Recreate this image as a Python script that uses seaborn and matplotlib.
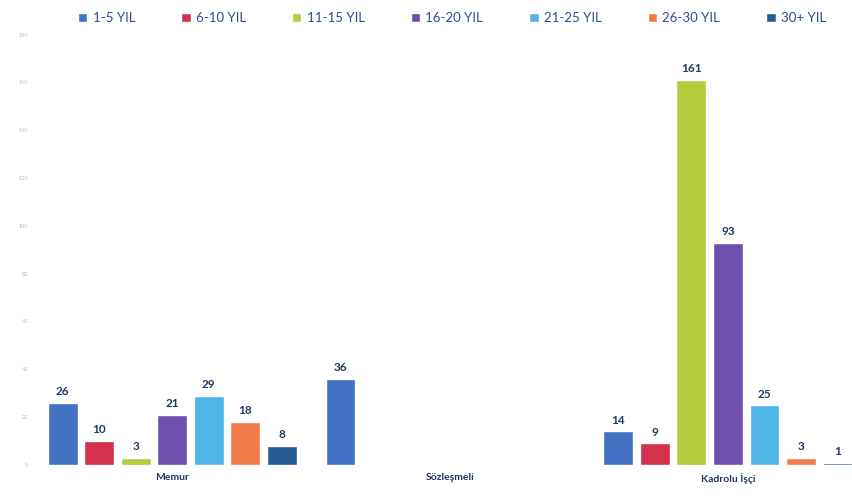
import pandas as pd
import matplotlib.pyplot as plt
import seaborn as sns

# Veriler
kategoriler = ['Memur', 'Sözleşmeli', 'Kadrolu İşçi']
gruplar = ['1-5 YIL', '6-10 YIL', '11-15 YIL', '16-20 YIL', '21-25 YIL', '26-30 YIL', '30+ YIL']
memur = [26, 10, 3, 21, 29, 18, 8]
sozlesmeli = [36, 0, 0, 0, 0, 0, 0]
kadrolu = [14, 9, 161, 93, 25, 3, 1]
renkler = ['#4472C4', '#D5304C', '#B5CB3E', '#6E4FAE', '#4DB5E8', '#F47B4A', '#245B95']
y_ticks = [0, 20, 40, 60, 80, 100, 120, 140, 160, 180]

rows = []
for kat, vals in zip(kategoriler, [memur, sozlesmeli, kadrolu]):
    for g, v in zip(gruplar, vals):
        rows.append({'Kategori': kat, 'Grup': g, 'Sayi': v})
df = pd.DataFrame(rows)

sns.set_style("white")
plt.rcParams['font.family'] = ['Lato', 'DejaVu Sans']

fig = plt.figure(figsize=(8.53, 5.01), dpi=100)
ax = fig.add_axes([0.039, 0.072, 0.961, 0.878])

sns.barplot(data=df, x='Kategori', y='Sayi', hue='Grup', order=kategoriler,
            hue_order=gruplar, palette=renkler, width=0.92, gap=0.18,
            saturation=1, legend=True, ax=ax)

# değer etiketleri (0 olanlar yazılmıyor)
for cont in ax.containers:
    etiketler = [f'{int(b.get_height())}' if b.get_height() > 0 else '' for b in cont]
    ax.bar_label(cont, labels=etiketler, padding=4, fontsize=8.5,
                 fontweight='bold', color='#1F3864')

ax.set_xlim(-0.5, 2.45)
ax.set_ylim(0, 184)
ax.set_yticks(y_ticks)
ax.tick_params(axis='y', labelsize=4, colors='#BBBBBB', length=0)
ax.tick_params(axis='x', labelsize=7.5, colors='#1F3864', length=0, pad=6)
for t in ax.get_xticklabels():
    t.set_fontweight('bold')
ax.set_xlabel('')
ax.set_ylabel('')
sns.despine(ax=ax, left=True, bottom=True)

handles, labels = ax.get_legend_handles_labels()
ax.get_legend().remove()
fig.legend(handles, labels, loc='upper center', bbox_to_anchor=(0.53, 1.0),
           ncol=7, frameon=False, fontsize=9.5, handlelength=0.7, handleheight=0.7,
           handletextpad=0.4, columnspacing=3.5, labelcolor='#2B4C9B')

plt.savefig('out.png', dpi=100)
plt.close()
